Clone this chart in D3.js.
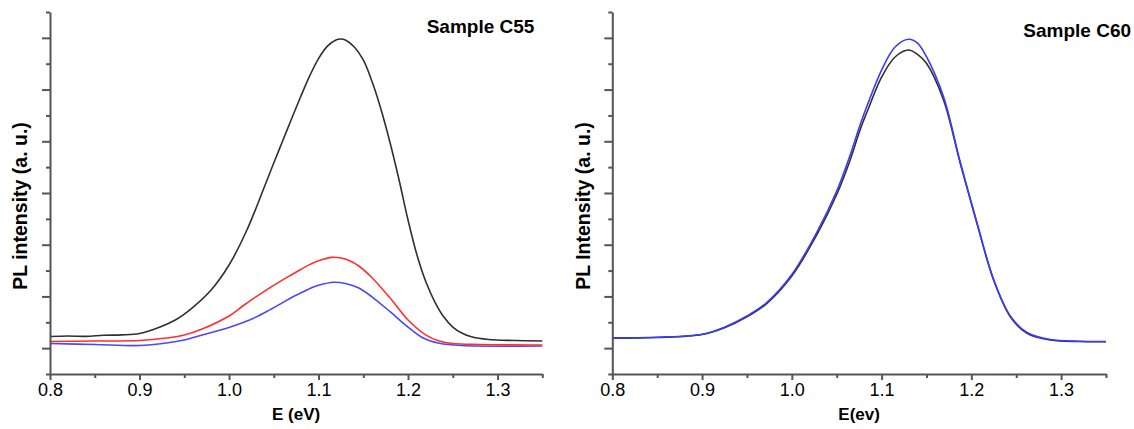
<!DOCTYPE html>
<html><head><meta charset="utf-8">
<script src="https://cdn.jsdelivr.net/npm/d3@7"></script>
<style>
body{margin:0;background:#fff;}
svg{display:block;font-family:"Liberation Sans",Arial,Helvetica,sans-serif;}
</style></head><body>
<svg id="chart" width="1134" height="429"></svg>
<script>
// ---- tick labels ----
const xMajorTicks = [0.8, 0.9, 1.0, 1.1, 1.2, 1.3];
const xTickLabels = ["0.8", "0.9", "1.0", "1.1", "1.2", "1.3"];
const xMinorTicks = [0.85, 0.95, 1.05, 1.15, 1.25, 1.35];
const yMajorTicks = [0, 1, 2, 3, 4, 5, 6];
const yMinorTicks = [-0.5, 0.5, 1.5, 2.5, 3.5, 4.5, 5.5, 6.5];

// ---- Sample C55 ----
const c55BlackE = [0.80,0.82,0.84,0.86,0.88,0.90,0.92,0.94,0.96,0.98,1.00,1.02,1.04,1.05,1.06,1.07,1.08,1.09,1.10,1.11,1.12,1.125,1.13,1.14,1.15,1.16,1.17,1.18,1.19,1.20,1.21,1.22,1.23,1.24,1.25,1.26,1.27,1.29,1.32,1.35];
const c55BlackI = [0.224,0.234,0.228,0.249,0.257,0.282,0.389,0.543,0.795,1.124,1.607,2.284,3.14,3.58,4.01,4.44,4.86,5.26,5.60,5.84,5.965,5.978,5.958,5.823,5.572,5.146,4.605,3.967,3.251,2.477,1.800,1.278,0.892,0.601,0.408,0.292,0.224,0.166,0.147,0.137];

const c55RedE = [0.80,0.85,0.90,0.93,0.95,0.97,1.00,1.015,1.03,1.045,1.06,1.07,1.08,1.09,1.10,1.115,1.13,1.145,1.16,1.18,1.20,1.22,1.235,1.25,1.28,1.35];
const c55RedI = [0.128,0.137,0.147,0.195,0.253,0.369,0.621,0.810,0.990,1.160,1.320,1.420,1.520,1.615,1.690,1.756,1.723,1.588,1.356,0.969,0.543,0.253,0.137,0.089,0.070,0.060];

const c55BlueE = [0.80,0.85,0.90,0.93,0.95,0.97,1.00,1.015,1.03,1.045,1.06,1.07,1.08,1.09,1.10,1.117,1.13,1.145,1.16,1.18,1.20,1.217,1.235,1.26,1.35];
const c55BlueI = [0.089,0.070,0.050,0.099,0.157,0.253,0.400,0.490,0.600,0.735,0.880,0.980,1.066,1.150,1.215,1.273,1.249,1.162,0.988,0.704,0.408,0.195,0.093,0.050,0.041];

// ---- Sample C60 ----
const c60BlackE = [0.80,0.85,0.90,0.925,0.95,0.972,1.00,1.028,1.05,1.065,1.076,1.085,1.10,1.115,1.13,1.14,1.15,1.169,1.1876,1.2062,1.2248,1.2434,1.262,1.288,1.32,1.35];
const c60BlackI = [0.190,0.205,0.263,0.395,0.605,0.862,1.394,2.197,2.970,3.64,4.22,4.62,5.24,5.63,5.765,5.68,5.508,4.798,3.574,2.413,1.317,0.607,0.286,0.157,0.128,0.124];

const c60BlueE = [0.80,0.85,0.90,0.925,0.95,0.972,1.00,1.028,1.05,1.065,1.076,1.085,1.10,1.115,1.13,1.14,1.15,1.169,1.1876,1.2062,1.2248,1.2434,1.262,1.288,1.32,1.35];
const c60BlueI = [0.199,0.211,0.269,0.405,0.621,0.880,1.423,2.245,3.038,3.734,4.315,4.740,5.378,5.823,5.972,5.90,5.635,4.862,3.599,2.429,1.327,0.621,0.302,0.166,0.133,0.128];

const zip = (E, I) => E.map((e, i) => ({e, v: I[i]}));

const panels = [
  {x0: 50, x1: 542.3, title: "Sample C55", titleX: 426.7, titleY: 33,
   ylabel: "PL intensity (a. u.)", ylabelX: 27, xlabel: "E (eV)",
   series: [
     {data: zip(c55BlackE, c55BlackI), color: "#303030"},
     {data: zip(c55BlueE, c55BlueI), color: "#4848ff"},
     {data: zip(c55RedE, c55RedI), color: "#ff2f2f"}
   ]},
  {x0: 612.3, x1: 1106, title: "Sample C60", titleX: 1023.3, titleY: 37.3,
   ylabel: "PL Intensity (a. u.)", ylabelX: 590, xlabel: "E(ev)",
   series: [
     {data: zip(c60BlackE, c60BlackI), color: "#303030"},
     {data: zip(c60BlueE, c60BlueI), color: "#3a3aff"}
   ]}
];

const svg = d3.select("#chart");
const yTop = 12, yBot = 374;
const axisColor = "#555";

panels.forEach(p => {
  const x = d3.scaleLinear().domain([0.8, 1.35]).range([p.x0, p.x1]);
  const y = d3.scaleLinear().domain([-0.5, 6.5]).range([yBot, yTop]);
  const g = svg.append("g");

  const line = d3.line().x(d => x(d.e)).y(d => y(d.v)).curve(d3.curveCatmullRom.alpha(0.5));
  p.series.forEach(s => {
    g.append("path").datum(s.data).attr("d", line)
      .attr("fill", "none").attr("stroke", s.color).attr("stroke-width", 1.6)
      .attr("stroke-linejoin", "round");
  });

  // x axis
  const xa = g.append("g").attr("transform", `translate(0,${yBot})`)
    .call(d3.axisBottom(x).tickValues(xMajorTicks).tickSize(6).tickSizeOuter(0).tickPadding(3)
      .tickFormat((d, i) => xTickLabels[i]));
  g.append("g").attr("transform", `translate(0,${yBot})`)
    .call(d3.axisBottom(x).tickValues(xMinorTicks).tickSize(4).tickFormat(""))
    .select(".domain").remove();
  // y axis
  g.append("g").attr("transform", `translate(${p.x0},0)`)
    .call(d3.axisLeft(y).tickValues(yMajorTicks).tickSize(8).tickSizeOuter(0).tickFormat(""));
  g.append("g").attr("transform", `translate(${p.x0},0)`)
    .call(d3.axisLeft(y).tickValues(yMinorTicks).tickSize(4).tickFormat(""))
    .select(".domain").remove();

  g.selectAll(".domain").attr("stroke", axisColor).attr("stroke-width", 2);
  g.selectAll(".tick line").attr("stroke", axisColor).attr("stroke-width", 2);
  xa.selectAll("text").attr("font-size", 18).attr("fill", "#000")
    .attr("font-family", "'Liberation Sans',Arial,sans-serif");

  // labels
  g.append("text").attr("x", (p.x0 + p.x1) / 2).attr("y", 420)
    .attr("text-anchor", "middle").attr("font-size", 17).attr("font-weight", "bold")
    .text(p.xlabel);
  g.append("text").attr("transform", `translate(${p.ylabelX},206) rotate(-90)`)
    .attr("text-anchor", "middle").attr("font-size", 19.5).attr("font-weight", "bold")
    .text(p.ylabel);
  g.append("text").attr("x", p.titleX).attr("y", p.titleY)
    .attr("font-size", 19).attr("font-weight", "bold").text(p.title);
});
</script>
</body></html>
